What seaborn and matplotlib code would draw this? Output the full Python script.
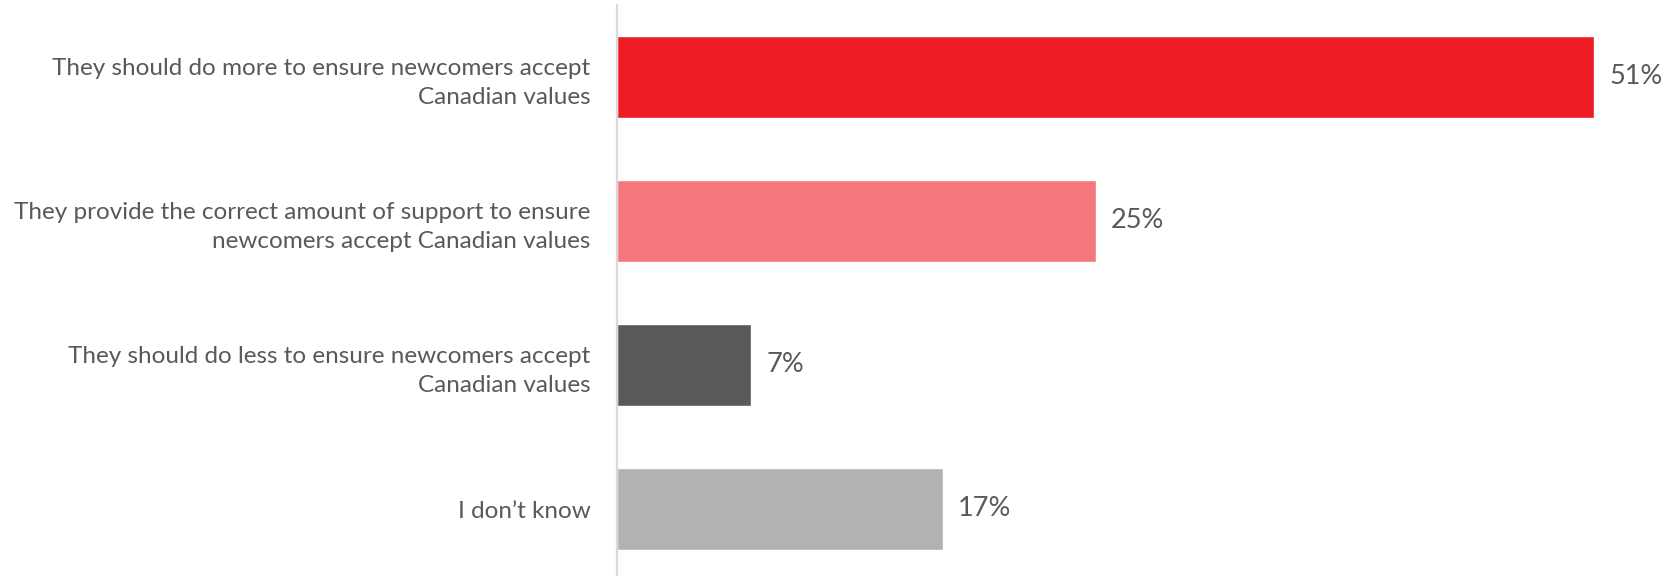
import matplotlib
matplotlib.use("Agg")
import matplotlib.pyplot as plt
import seaborn as sns
import pandas as pd

categories = [
    "They should do more to ensure newcomers accept\nCanadian values",
    "They provide the correct amount of support to ensure\nnewcomers accept Canadian values",
    "They should do less to ensure newcomers accept\nCanadian values",
    "I don\u2019t know",
]
values = [51, 25, 7, 17]
colors = ["#ED1C24", "#F4787B", "#595959", "#B2B2B2"]

sns.set_theme(style="white")
plt.rcParams["font.family"] = ["Lato", "DejaVu Sans"]

df = pd.DataFrame({"answer": categories, "pct": values})

fig = plt.figure(figsize=(16.74, 5.76), dpi=100)
ax = fig.add_axes([617 / 1674, -5 / 576, 1 - 617 / 1674, 576 / 576])

sns.barplot(data=df, y="answer", x="pct", hue="answer", palette=colors,
            order=categories, hue_order=categories, legend=False,
            width=0.57, saturation=1, ax=ax)

ax.set_xlim(0, 55.18)
ax.set_ylim(3.5, -0.5)
ax.set_xlabel("")
ax.set_ylabel("")
ax.set_xticks([])
for side in ["top", "right", "bottom"]:
    ax.spines[side].set_visible(False)
ax.spines["left"].set_color("#D9D9D9")
ax.spines["left"].set_linewidth(1.6)

ax.tick_params(axis="y", length=0, pad=19)
for lbl in ax.get_yticklabels():
    lbl.set_fontsize(17.5)
    lbl.set_color("#595959")
    lbl.set_fontweight("normal")
    lbl.set_linespacing(1.45)

for i, v in enumerate(values):
    ax.text(v + 0.8, i, f"{v}%", va="center", ha="left",
            fontsize=19.5, color="#595959", fontweight="normal")

fig.savefig("out.png", dpi=100)
